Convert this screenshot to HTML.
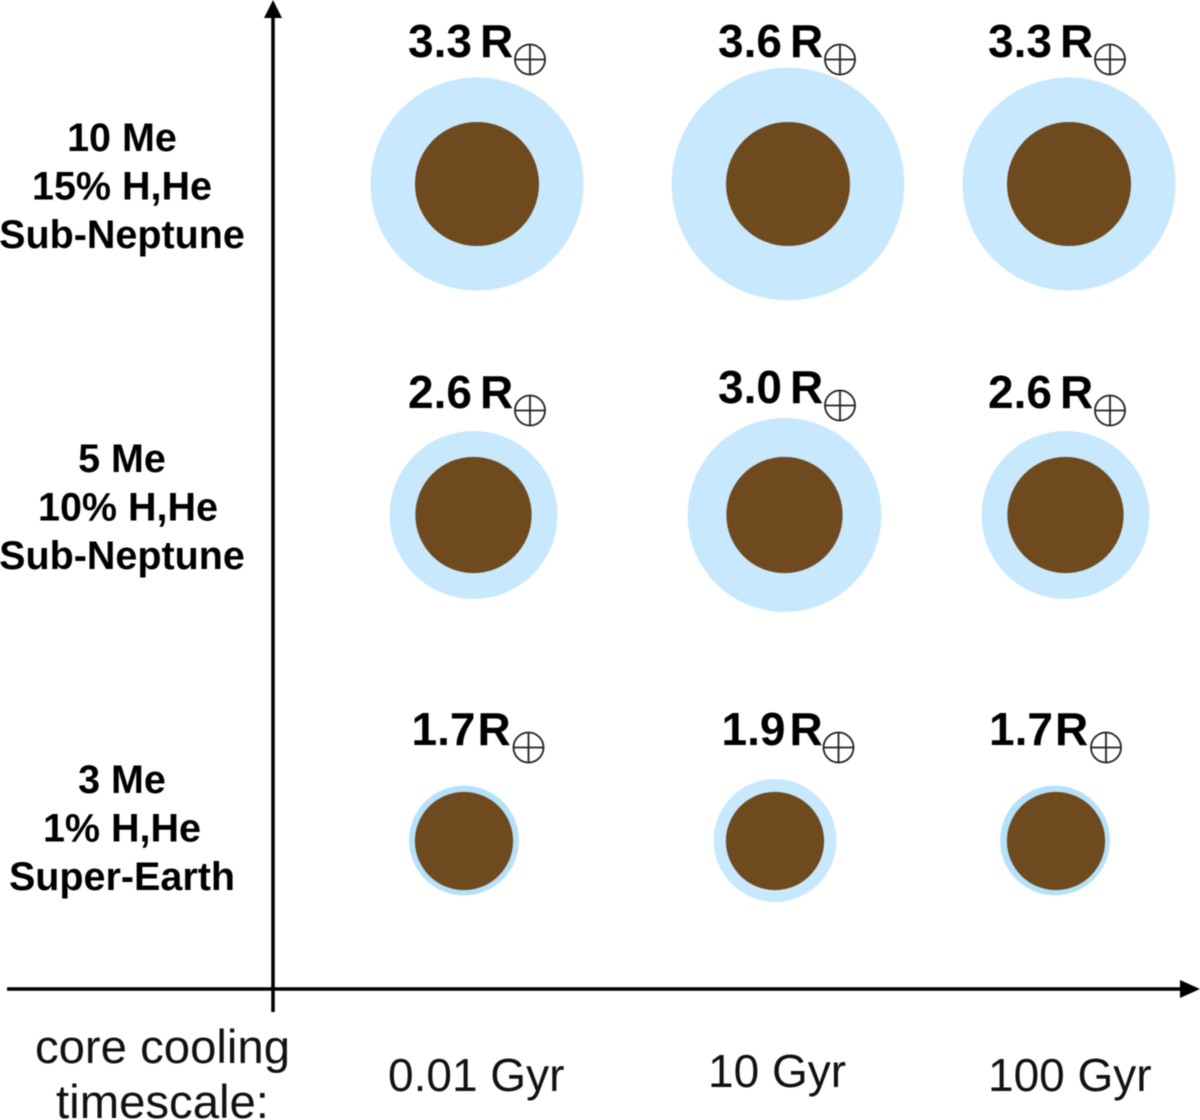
<!DOCTYPE html>
<html>
<head>
<meta charset="utf-8">
<style>
html,body{margin:0;padding:0;background:#fff;}
svg{display:block;font-family:"Liberation Sans",sans-serif;filter:blur(0.4px);}
</style>
</head>
<body>
<svg id="chart" xmlns="http://www.w3.org/2000/svg" width="1200" height="1120" viewBox="0 0 1200 1120">
  <rect x="0" y="0" width="1200" height="1120" fill="#fff"/>
  <g stroke="#000" fill="#000">
    <line x1="273" y1="1012" x2="273" y2="12" stroke-width="3.5"/>
    <polygon points="273,0 282,18 264,18" stroke="none"/>
    <line x1="7" y1="989" x2="1186" y2="989" stroke-width="3.5"/>
    <polygon points="1200,989 1180,980 1180,998" stroke="none"/>
  </g>
  <g id="planets"></g>
  <g id="labels"></g>
  <g id="rowLabels" font-size="39.5" font-weight="700" text-anchor="middle"></g>
  <g id="xLabels" font-size="46" fill="#111"></g>
  <text x="162.5" y="1063" font-size="47.3" text-anchor="middle" fill="#111">core cooling</text>
  <text x="162.5" y="1118" font-size="47.3" text-anchor="middle" fill="#111">timescale:</text>
</svg>
<script>
const timescales = ["0.01 Gyr", "10 Gyr", "100 Gyr"];
const masses = ["10 Me", "5 Me", "3 Me"];
const envelopeFractions = ["15% H,He", "10% H,He", "1% H,He"];
const planetTypes = ["Sub-Neptune", "Sub-Neptune", "Super-Earth"];
const planetRadii = [
  [3.3, 3.6, 3.3],
  [2.6, 3.0, 2.6],
  [1.7, 1.9, 1.7]
];
const coreRadii = [1.92, 1.8, 1.52];

const NS = "http://www.w3.org/2000/svg";
function xScale(col, row) {
  return [477, 788, 1069][col] - [0, 3.5, 13][row];
}
function yScale(row) {
  return [184, 515, 841][row];
}
function rScale(r) {
  return r * 32.3;
}
function labelX(col, row) {
  return [408, 718, 988][col] + (row === 2 ? (col === 2 ? 1 : 3.5) : 0);
}
function labelY(col, row) {
  return [57, 408, 745][row] - (row === 1 && col === 1 ? 5 : 0);
}
function make(tag, attrs, parent) {
  const el = document.createElementNS(NS, tag);
  for (const k in attrs) el.setAttribute(k, attrs[k]);
  parent.appendChild(el);
  return el;
}
const planets = document.getElementById("planets");
const labels = document.getElementById("labels");
const rowLabels = document.getElementById("rowLabels");
const xLabels = document.getElementById("xLabels");

planetRadii.forEach(function (rowValues, row) {
  rowValues.forEach(function (value, col) {
    const cx = xScale(col, row), cy = yScale(row);
    const envR = rScale(value), coreR = rScale(coreRadii[row]);
    const env = make("circle", {cx: cx - (row === 2 && col === 2 ? 1 : 0), cy: cy - (row === 2 ? 0.5 : 0), r: envR, fill: (envR - coreR < 8) ? "#b6e1fb" : "#c7e8fd"}, planets);
    
    
    const core = make("circle", {cx: cx, cy: cy, r: coreR, fill: "#6f4a1e"}, planets);
    
    

    const lx = labelX(col, row), ly = labelY(col, row);
    const t = make("text", {x: lx, y: ly, "font-size": 46, "font-weight": 700, fill: "#000"}, labels);
    
    
    t.textContent = value.toFixed(1);
    const tr = make("text", {x: lx + (row === 2 ? (col === 1 ? 68 : 66) : 72), y: ly, "font-size": 46, "font-weight": 700, fill: "#000"}, labels);
    
    
    tr.textContent = "R";
    const ex = lx + (row === 2 ? 117 : 122), ey = ly + 2.5;
    const sym = make("g", {fill: "none", stroke: "#222", "stroke-width": 1.8}, labels);
    
    
    make("circle", {cx: ex, cy: ey, r: 15}, sym);
    make("line", {x1: ex - 15, y1: ey, x2: ex + 15, y2: ey}, sym);
    make("line", {x1: ex, y1: ey - 15, x2: ex, y2: ey + 15}, sym);
  });

  const base = [151, 472, 793][row];
  const lines = [masses[row], envelopeFractions[row], planetTypes[row]];
  lines.forEach(function (txt, i) {
    const t = make("text", {x: (row === 1 && i === 1) ? 128 : 122, y: base + i * 48.5}, rowLabels);
    
    
    t.textContent = txt;
  });
});

timescales.forEach(function (txt, col) {
  const t = make("text", {x: labelX(col, 0) - [20, 10, 0][col], y: col === 1 ? 1087 : 1091}, xLabels);
  
  
  t.textContent = txt;
});
</script>
</body>
</html>
